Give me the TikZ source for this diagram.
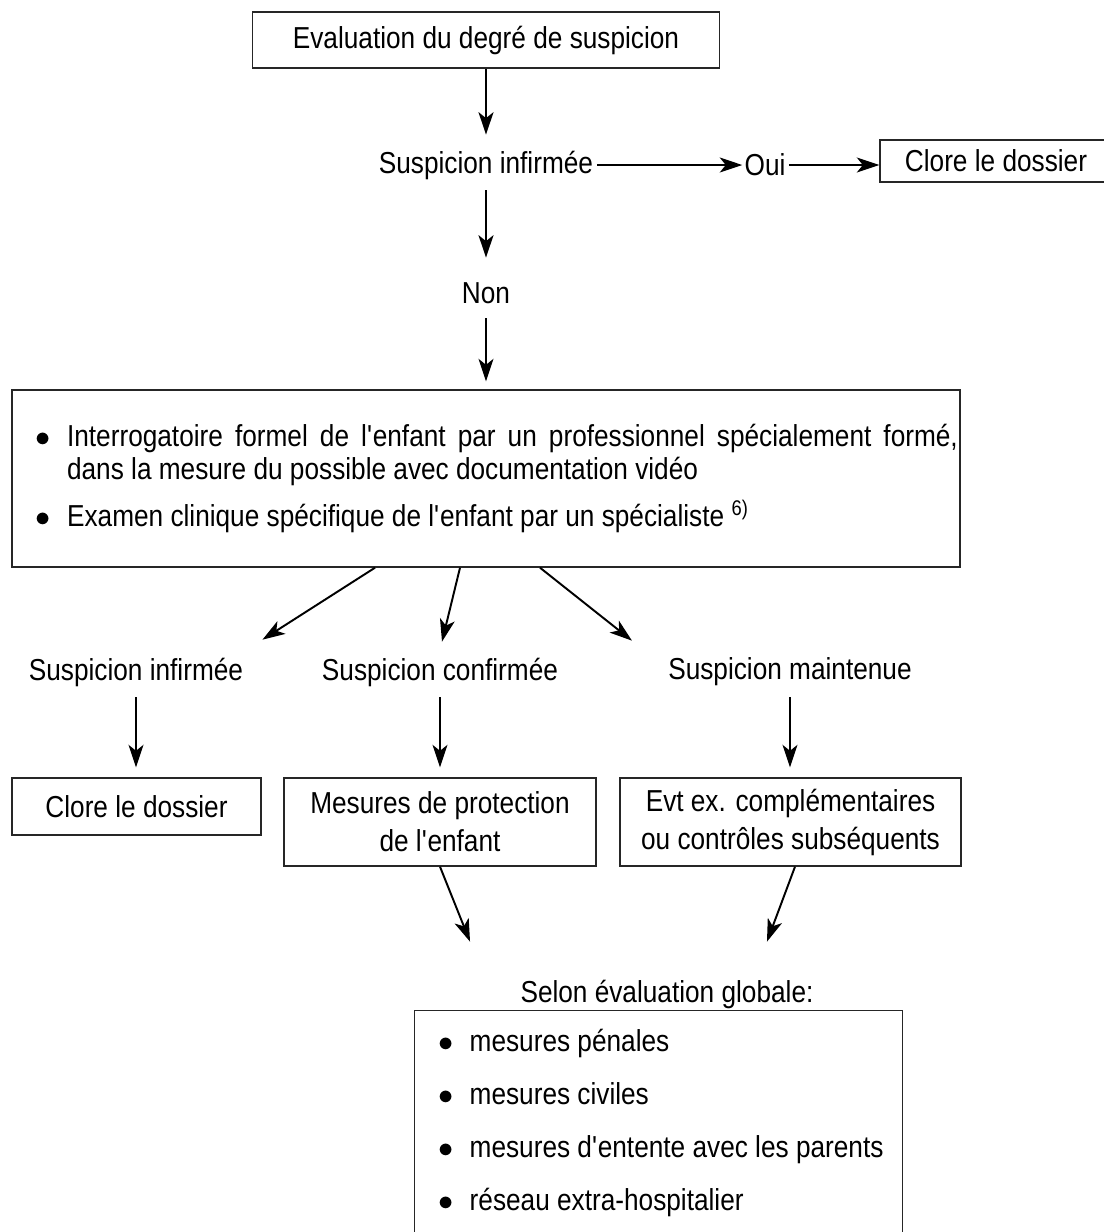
\documentclass[tikz,border=0pt]{standalone}
\usepackage{fontspec}
\setmainfont{Liberation Sans}[FakeStretch=0.865]
\usetikzlibrary{arrows.meta}

\tikzset{
  box/.style={draw=black!85, line width=0.8pt, inner sep=0pt},
  lbl/.style={inner sep=0pt, minimum height=1cm},
  arr/.style={-{Stealth[length=0.45cm,width=0.3cm,inset=0.12cm]}, line width=1.1pt},
}
\newcommand{\puce}{\makebox[0.63cm][l]{$\bullet$}}
\newcommand{\apo}{\textquotesingle}

\begin{document}
\begin{tikzpicture}[x=0.02cm, y=-0.02cm, every node/.style={font=\fontsize{17.25}{18.8}\selectfont}]
    \useasboundingbox (0,0) rectangle (1104,1232);
    \clip (0,0) rectangle (1104,1232);

    % Top of the chart
    \node[box, minimum width=9.34cm, minimum height=1.12cm] (eval) at (486,40) {Evaluation du degré de suspicion};
    \node[lbl] (susp) at (486,165) {Suspicion infirmée};
    \node[lbl] (oui) at (765,165) {Oui};
    \node[box, minimum width=4.64cm, minimum height=0.84cm] (clos) at (996,161) {Clore le dossier};
    \node[lbl] (non) at (486,293) {Non};

    % Arrows
    \draw[arr, shorten >=0.1cm] (eval.south) -- (susp.north);
    \draw[arr, shorten <=0.08cm, shorten >=0.04cm] (susp.east) -- (oui.west);
    \draw[arr, shorten <=0.06cm] (oui.east) -- (oui.east -| clos.west);
    \draw[arr, shorten >=0.2cm] (susp.south) -- (non.north);

    % Examination box
    \node[box, align=justify, text width=18.96cm, minimum height=3.54cm] (exam) at (486,478.5) {%
      {\leftskip=0.47cm \rightskip=0.04cm \hangindent=0.63cm \hangafter=1
       \noindent\puce Interrogatoire formel de l\apo enfant par un professionnel spécialement formé,\linebreak dans la mesure du possible avec documentation vidéo\par}
      \vspace{0.28cm}
      {\leftskip=0.47cm \noindent\puce Examen clinique spécifique de l\apo enfant par un spécialiste \textsuperscript{6)}\par}};

    % Arrow into the box
    \draw[arr, shorten >=0.16cm] (non.south) -- (exam.north);

    % Three outcomes
    \node[lbl] (inf) at (136,672) {Suspicion infirmée};
    \node[lbl] (conf) at (440,672) {Suspicion confirmée};
    \node[lbl] (maint) at (790,672) {Suspicion maintenue};

    \draw[arr] ([xshift=-2.22cm]exam.south) -- ([xshift=0.38cm,yshift=0.14cm]inf.north east);
    \draw[arr] ([xshift=-0.52cm]exam.south) -- ([xshift=0.04cm,yshift=0.1cm]conf.north);
    \draw[arr] ([xshift=1.08cm]exam.south) -- ([xshift=-0.72cm,yshift=0.12cm]maint.north west);

    % Measures
    \node[box, minimum width=4.98cm, minimum height=1.14cm] (clos2) at (136.5,806.5) {Clore le dossier};
    \node[box, align=center, minimum width=6.24cm, minimum height=1.76cm] (prot) at (440,822) {Mesures de protection\\[0.1cm]de l\apo enfant};
    \node[box, align=center, minimum width=6.82cm, minimum height=1.76cm] (evt) at (790.5,822) {Evt ex. complémentaires\\[0.1cm]ou contrôles subséquents};

    \draw[arr, shorten >=0.2cm] (inf.south) -- (inf.south |- clos2.north);
    \draw[arr, shorten >=0.2cm] (conf.south) -- (prot.north);
    \draw[arr, shorten >=0.2cm] (maint.south) -- (maint.south |- evt.north);

    % Global evaluation
    \node[lbl] (selon) at (667,994) {Selon évaluation globale:};
    \draw[arr] (prot.south) -- ([xshift=-3.94cm,yshift=0.54cm]selon.north);
    \draw[arr] ([xshift=0.09cm]evt.south) -- ([xshift=2cm,yshift=0.54cm]selon.north);

    \node[box, align=justify, anchor=north west, text width=9.76cm, inner ysep=0.36cm] (mes) at (414,1010) {%
      \leftskip=0.47cm
      \noindent\puce mesures pénales\par\vspace{0.4cm}
      \noindent\puce mesures civiles\par\vspace{0.4cm}
      \noindent\puce mesures d\apo entente avec les parents\par\vspace{0.4cm}
      \noindent\puce réseau extra-hospitalier\par\vspace{0.4cm}
      \rule{0pt}{0.6cm}};
\end{tikzpicture}
\end{document}
